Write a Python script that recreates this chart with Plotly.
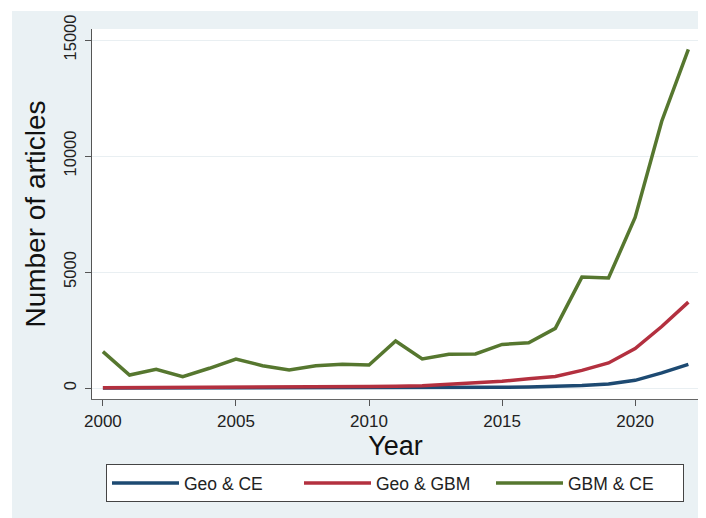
import plotly.graph_objects as go

# data
years = list(range(2000, 2023))
geo_ce = [2, 2, 3, 3, 4, 4, 5, 5, 6, 7, 8, 10, 12, 15, 20, 30, 45, 70, 110, 170, 330, 650, 1020]
geo_gbm = [10, 12, 15, 18, 20, 22, 25, 30, 35, 45, 60, 80, 100, 160, 220, 290, 400, 500, 760, 1080, 1700, 2650, 3700]
gbm_ce = [1565, 560, 805, 490, 850, 1250, 960, 775, 960, 1020, 990, 2025, 1250, 1450, 1465,
          1880, 1950, 2570, 4780, 4740, 7350, 11500, 14600]
names = ["Geo & CE", "Geo & GBM", "GBM & CE"]
colors = ["#1d4a72", "#b3303f", "#56772f"]
y_ticks = [0, 5000, 10000, 15000]
x_ticks = [2000, 2005, 2010, 2015, 2020]

# the page body has an 8px margin, so the figure sits 8px in from the window edge
OFF = 8
W, H = 706 - OFF, 518 - OFF
L, R, T, B = 92 - OFF, 7, 29 - OFF, 119
pw, ph = W - L - R, H - T - B

# helpers: window pixel -> paper coordinate
def px_x(p):
    return (p - OFF - L) / pw

def px_y(p):
    return (H - B - (p - OFF)) / ph

FONT = "Liberation Sans, Arial, sans-serif"
BG = "#eaf1f4"

fig = go.Figure()
for name, vals, col in zip(names, [geo_ce, geo_gbm, gbm_ce], colors):
    fig.add_trace(go.Scatter(x=years, y=vals, name=name, mode="lines",
                             line=dict(color=col, width=3.5)))

fig.update_xaxes(range=[1999.59, 2022.4], tickvals=x_ticks, ticks="outside", ticklen=6,
                 tickcolor="#555", showline=True, linecolor="#666", linewidth=1,
                 showgrid=False, zeroline=False, tickfont=dict(size=17, color="#222"),
                 ticklabelstandoff=1,
                 title=dict(text="Year", font=dict(size=27, color="#111"), standoff=1))
fig.update_yaxes(range=[-474, 15474], tickvals=y_ticks, tickformat="d", ticks="outside",
                 ticklen=6, tickcolor="#555", showline=True, linecolor="#555", linewidth=1,
                 showgrid=True, gridcolor="#e9eff2", gridwidth=1, zeroline=False,
                 tickangle=-90, tickfont=dict(size=16.5, color="#222"),
                 ticklabelstandoff=2,
                 title=dict(text="Number of articles", font=dict(size=28, color="#111"), standoff=7))

fig.update_layout(
    width=W, height=H,
    margin=dict(l=L, r=R, t=T, b=B, autoexpand=False),
    paper_bgcolor=BG, plot_bgcolor="white",
    font=dict(family=FONT, color="#222"),
    showlegend=True,
    legend=dict(orientation="h", x=px_x(106), y=px_y(464), xanchor="left", yanchor="top",
                bgcolor="white", bordercolor="#444", borderwidth=1,
                font=dict(size=17.5, color="#222"), itemwidth=67,
                entrywidth=110, entrywidthmode="pixels"),
    shapes=[
        dict(type="rect", xref="paper", yref="paper", x0=px_x(OFF), x1=px_x(12),
             y0=px_y(518), y1=px_y(OFF), fillcolor="white", line=dict(width=0)),
        dict(type="rect", xref="paper", yref="paper", x0=px_x(OFF), x1=px_x(706),
             y0=px_y(11), y1=px_y(OFF), fillcolor="white", line=dict(width=0)),
    ],
)

fig.write_html("out.html")
